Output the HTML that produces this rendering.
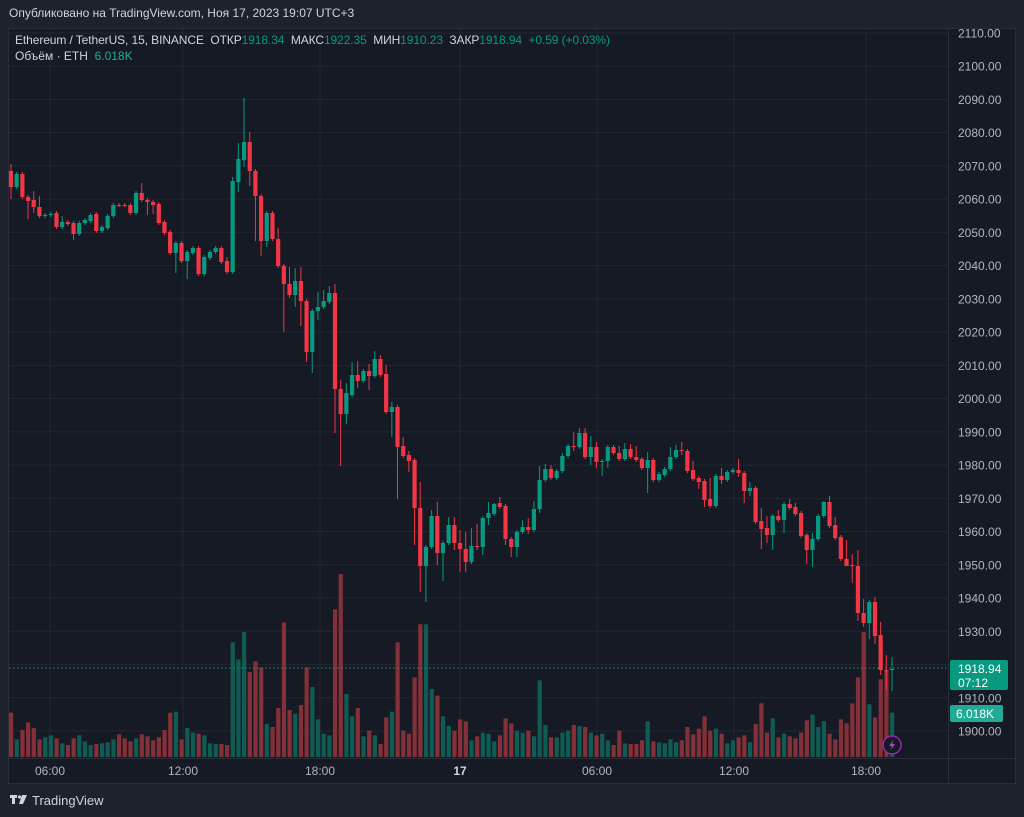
<!DOCTYPE html>
<html><head><meta charset="utf-8"><style>
body{margin:0;width:1024px;height:817px;background:#1e222d;overflow:hidden;font-family:"Liberation Sans",sans-serif;}
svg{position:absolute;left:0;top:0}
text{white-space:pre}
</style></head><body>
<svg id="s" width="1024" height="817" xmlns="http://www.w3.org/2000/svg">
<rect x="0" y="0" width="1024" height="817" fill="#1e222d"/>
<rect x="8.5" y="28.5" width="1007" height="755" fill="#161a25" stroke="#2a2e39"/>
<g id="grid"></g>
<g id="vol"></g>
<g id="cand"></g>
<line x1="9" y1="668" x2="948" y2="668" stroke="#089981" stroke-dasharray="1.5,2.5" stroke-width="1"/>
<g id="ax" font-size="12" fill="#b2b5be"></g>
<text x="9" y="17" font-size="12" fill="#d1d4dc">Опубликовано на TradingView.com, Ноя 17, 2023 19:07 UTC+3</text>
<text x="15" y="44" font-size="12" fill="#d1d4dc" textLength="595" lengthAdjust="spacing">Ethereum / TetherUS, 15, BINANCE  ОТКР<tspan fill="#089981">1918.34</tspan>  МАКС<tspan fill="#089981">1922.35</tspan>  МИН<tspan fill="#089981">1910.23</tspan>  ЗАКР<tspan fill="#089981">1918.94</tspan>  <tspan fill="#089981">+0.59 (+0.03%)</tspan></text>
<text x="15" y="60" font-size="12" fill="#d1d4dc">Объём · ETH  <tspan fill="#22ab94">6.018K</tspan></text>
<rect x="950" y="660" width="58" height="30" rx="2" fill="#089981"/>
<text x="958" y="673" font-size="12" fill="#fff">1918.94</text>
<text x="958" y="687" font-size="12" fill="#fff">07:12</text>
<rect x="950" y="705" width="53" height="17" rx="2" fill="#22ab94"/>
<text x="956" y="718" font-size="12" fill="#fff">6.018K</text>
<circle cx="892" cy="745" r="9" fill="#161a25" stroke="#9c27b0" stroke-width="1.5"/>
<path d="M894 739 L889 746 L892 746 L890 751 L895 744 L892 744 Z" fill="#ab47bc"/>
<g fill="#d1d4dc"><rect x="10" y="795" width="7" height="3"/><rect x="12" y="795" width="3" height="9"/><circle cx="19.5" cy="797" r="1.6"/><path d="M22 795 L27 795 L23 804 L19 804 Z"/></g>
<text x="32" y="805" font-size="13" fill="#d1d4dc">TradingView</text>
</svg>
<script>
(function(){
var NS="http://www.w3.org/2000/svg";
function el(p,t,a,txt){var e=document.createElementNS(NS,t);for(var k in a)e.setAttribute(k,a[k]);if(txt!==undefined)e.textContent=txt;p.appendChild(e);return e;}
var G=document.getElementById('grid'),A=document.getElementById('ax');
function py(p){return 731-(p-1900)*3.324;}
for(var p=1900;p<=2110;p+=10){var y=py(p);el(G,'line',{x1:9,x2:948,y1:y,y2:y,stroke:'#222631','stroke-width':1});el(A,'text',{x:958,y:y+4.5},p.toFixed(2));}
var tl=[[50,'06:00'],[183,'12:00'],[320,'18:00'],[460,'17'],[597,'06:00'],[734,'12:00'],[866,'18:00']];
tl.forEach(function(t){el(G,'line',{x1:t[0],x2:t[0],y1:29,y2:758,stroke:'#222631'});var e=el(A,'text',{x:t[0],y:775,'text-anchor':'middle'},t[1]);if(t[1]=='17'){e.setAttribute('font-weight','bold');e.setAttribute('fill','#d1d4dc');}});
el(G,'line',{x1:948.5,x2:948.5,y1:29,y2:783,stroke:'#2a2e39'});
el(G,'line',{x1:9,x2:1015,y1:758.5,y2:758.5,stroke:'#2a2e39'});
var B=[[171,187],[187,174],[174,197],[197,201],[200,207],[207,216],[216,215],[215,214],[213,227],[227,222],[222,224],[223,234],[234,223],[223,220],[221,215],[214,231],[231,227],[228,216],[216,205],[205,205],[205,205],[205,213],[213,193],[193,200],[200,202],[202,205],[204,223],[222,233],[232,253],[253,243],[243,261],[261,252],[253,248],[248,274],[274,257],[258,252],[252,248],[248,262],[261,272],[272,181],
[182,159],[160,142],[142,171],[171,196],[196,241],[241,213],[213,239],[239,266],[266,284],[284,295],[295,281],[281,301],[301,352],[352,311],[311,307],[307,301],[302,293],[293,389],[389,414],[414,393],[395,375],[375,381],[381,371],[371,376],[376,359],[359,375],[374,412],[412,407],[407,447],[446,456],[455,461],[460,508],[508,566],[566,547],[547,516],[516,553],[553,543],[543,525],[525,543],[543,549],
[549,562],[562,546],[546,547],[547,518],[518,513],[514,504],[503,507],[506,539],[539,547],[547,532],[532,527],[527,530],[530,509],[509,480],[480,469],[469,478],[478,471],[471,456],[456,446],[446,447],[447,433],[433,457],[457,447],[447,462],[461,461],[461,447],[447,453],[453,459],[459,449],[449,457],[457,460],[459,468],[468,460],[460,480],[480,474],[475,469],[469,457],[457,450],[450,451],[451,471],
[470,479],[478,482],[481,500],[499,506],[506,476],[476,480],[480,472],[472,470],[470,473],[473,491],[491,488],[488,522],[521,529],[528,535],[535,516],[516,520],[520,504],[504,508],[507,514],[513,536],[535,550],[550,539],[539,516],[516,502],[502,526],[525,538],[537,559],[559,566],[565,566],[566,613],[613,623],[623,602],[602,636],[635,670],[670,670],[670,669]];
var W={0:[164,199],3:[0,219],4:[191,213],5:[196,0],9:[216,0],11:[0,240],23:[183,0],24:[0,215],25:[0,214],29:[0,273],31:[0,279],38:[257,0],39:[177,0],40:[143,192],
41:[98,167],42:[132,186],43:[0,241],44:[0,256],45:[0,247],47:[228,0],48:[0,332],49:[267,298],50:[268,307],51:[267,326],52:[0,362],53:[0,373],54:[292,320],55:[290,0],56:[286,0],57:[284,433],58:[380,466],59:[383,424],60:[362,0],61:[361,388],63:[364,390],64:[351,0],65:[355,0],66:[365,0],67:[402,437],68:[0,499],69:[437,0],70:[451,472],71:[0,545],72:[482,592],73:[0,602],74:[510,0],75:[502,565],76:[0,581],77:[517,0],78:[517,550],79:[530,572],
80:[532,572],81:[528,0],82:[524,550],83:[0,555],84:[502,525],85:[503,0],86:[497,0],87:[0,545],88:[0,557],89:[0,557],90:[520,0],91:[518,534],92:[501,0],93:[466,513],94:[464,0],95:[465,0],97:[453,0],98:[444,0],99:[432,451],100:[428,0],101:[428,0],102:[436,465],103:[442,468],104:[0,476],105:[0,468],107:[446,0],108:[443,0],109:[444,0],110:[446,0],112:[452,493],
116:[447,0],117:[445,0],118:[442,455],119:[449,0],120:[461,0],121:[0,489],122:[0,507],123:[478,0],125:[468,484],128:[459,477],129:[0,503],130:[482,496],131:[486,0],132:[508,549],133:[516,543],134:[0,550],135:[510,0],136:[0,533],137:[499,0],138:[503,0],139:[511,0],140:[0,564],141:[533,567],143:[501,0],144:[496,0],145:[517,0],147:[540,566],148:[554,583],149:[550,621],150:[599,627],151:[0,639],152:[597,644],153:[622,675],154:[655,690],155:[657,691]};
var V=[428,508,480,457,474,508,502,496,505,520,525,505,496,514,525,522,520,517,508,493,505,514,505,493,499,511,502,480,428,425,508,474,488,491,496,520,522,522,525,217,268,186,306,274,292,462,471,414,157,420,431,405,292,351,448,491,496,118,12,372,439,414,499,482,496,522,442,425,217,482,491,322,163,163,357,377,439,
468,482,448,454,511,499,488,491,514,496,445,460,482,488,482,499,331,465,502,502,488,482,465,468,471,488,496,491,511,525,482,520,522,522,511,454,514,517,520,508,517,511,471,493,476,439,482,476,491,520,511,502,496,517,462,400,488,445,502,491,499,505,488,451,434,471,454,491,508,448,460,400,322,186,403,442,328,300,428];
var C=document.getElementById('cand'),VG=document.getElementById('vol');
for(var i=0;i<B.length;i++){
 var x=11+i*5.684,o=B[i][0],c=B[i][1],up=c<o||(c==o&&i>0&&B[i-1][1]>c);
 var col=up?'#089981':'#f23645',vc=up?'#0f5c54':'#843038';
 var bt=Math.min(o,c),bb=Math.max(o,c);
 var w=W[i]||[0,0],h=w[0]||bt-2,l=w[1]||bb+2;
 if(V[i]!==undefined){var vy=570+V[i]/3;el(VG,'rect',{x:x-2,y:vy,width:4.2,height:757-vy,fill:vc});}
 el(C,'line',{x1:x,x2:x,y1:h,y2:l,stroke:col,'stroke-width':1});
 el(C,'rect',{x:x-2.1,y:bt,width:4.2,height:Math.max(1,bb-bt),fill:col});
}
})();
</script>
</body></html>
